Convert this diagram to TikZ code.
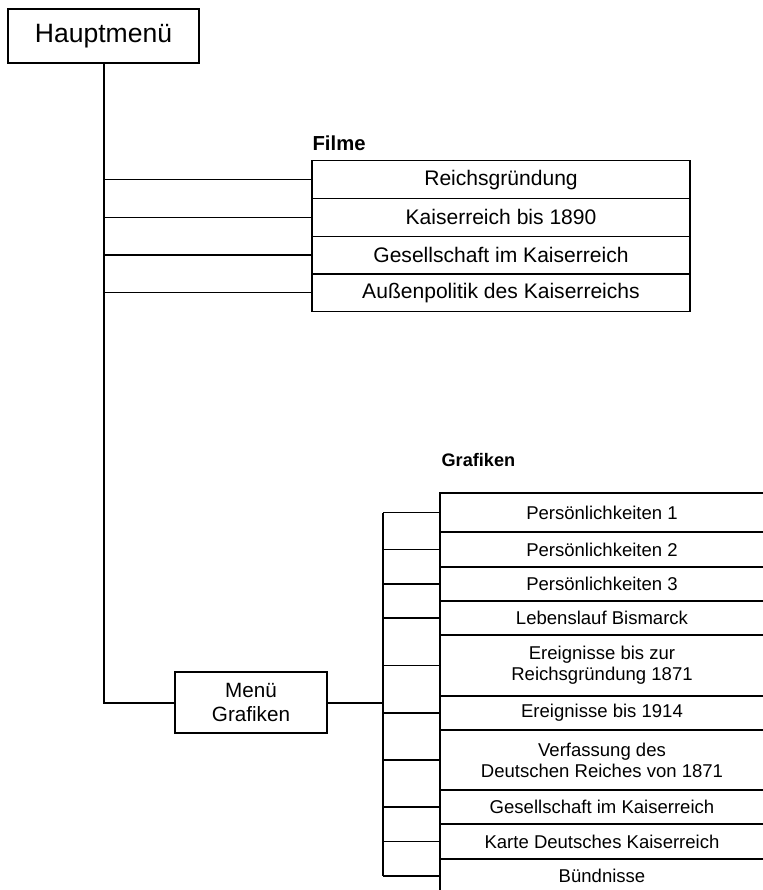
\documentclass[tikz,border=0pt]{standalone}
\usepackage{fontspec}
\setmainfont{Liberation Sans}
\begin{document}
\begin{tikzpicture}[x=0.75pt,y=-0.75pt,
  line width=0.9pt,
  mainbox/.style={draw, line width=1.5pt, inner sep=0pt, outer sep=0pt,
    minimum width={191*0.75pt}, minimum height={54*0.75pt},
    font=\fontsize{19.9}{22}\selectfont},
  filmbox/.style={draw, inner sep=0pt, outer sep=0pt,
    minimum width={378*0.75pt}, minimum height={37.75*0.75pt},
    font=\fontsize{15.8}{18}\selectfont},
  grafbox/.style={draw, inner sep=0pt, outer sep=0pt, align=center,
    minimum width={324*0.75pt},
    font=\fontsize{13.9}{15.75}\selectfont},
  menubox/.style={draw, inner sep=0pt, outer sep=0pt, align=center,
    minimum width={152*0.75pt}, minimum height={61*0.75pt},
    font=\fontsize{15.5}{17.5}\selectfont},
  headlabel/.style={anchor=base west, inner sep=0pt,
    font=\bfseries\fontsize{13.6}{16}\selectfont},
  conn/.style={line width=0.9pt},
  spine/.style={line width=1.5pt}
]
\useasboundingbox (0,0) rectangle (763,890);
\clip (0,0) rectangle (763,890);

% main menu
\node[mainbox] (H) at (103.5,35.8) {Hauptmenü};

% Filme
\node[headlabel, font=\bfseries\fontsize{15.2}{18}\selectfont] (Lf) at (312,150) {Filme};
\node[filmbox] (F1) at (501,179.6) {Reichsgründung};
\node[filmbox] (F2) at (501,217.3) {Kaiserreich bis 1890};
\node[filmbox] (F3) at (501,255.0) {Gesellschaft im Kaiserreich};
\node[filmbox] (F4) at (501,292.8) {Außenpolitik des Kaiserreichs};

% Menü Grafiken
\node[menubox] (MG) at (251,702.5) {Menü\\Grafiken};

% Grafiken
\node[headlabel] (Lg) at (441,466) {Grafiken};
\node[grafbox, minimum height={39*0.75pt}] (G1) at (602,512.5) {Persönlichkeiten 1};
\node[grafbox, minimum height={35*0.75pt}] (G2) at (602,549.5) {Persönlichkeiten 2};
\node[grafbox, minimum height={34*0.75pt}] (G3) at (602,584) {Persönlichkeiten 3};
\node[grafbox, minimum height={34*0.75pt}] (G4) at (602,618) {Lebenslauf Bismarck};
\node[grafbox, minimum height={61*0.75pt}] (G5) at (602,665.5) {Ereignisse bis zur\\Reichsgründung 1871};
\node[grafbox, minimum height={34*0.75pt}] (G6) at (602,713) {Ereignisse bis 1914};
\node[grafbox, minimum height={60*0.75pt}] (G7) at (602,760) {Verfassung des\\Deutschen Reiches von 1871};
\node[grafbox, minimum height={34*0.75pt}] (G8) at (602,807) {Gesellschaft im Kaiserreich};
\node[grafbox, minimum height={35*0.75pt}] (G9) at (602,841.5) {Karte Deutsches Kaiserreich};
\node[grafbox, minimum height={34*0.75pt}] (G10) at (602,876) {Bündnisse};

% main spine
\draw[spine] (H.south) |- (MG.west);
\foreach \f in {F1,F2,F3,F4}
  \draw[conn] (H.south |- \f.west) -- (\f.west);

% Grafiken spine
\coordinate (gs) at (383,702.5);
\draw[spine] (MG.east) -- (gs);
\draw[spine] (gs |- G1.west) -- (gs |- G10.west);
\foreach \g in {G1,G2,G3,G4,G5,G6,G7,G8,G9,G10}
  \draw[conn] (gs |- \g.west) -- (\g.west);
\end{tikzpicture}
\end{document}
